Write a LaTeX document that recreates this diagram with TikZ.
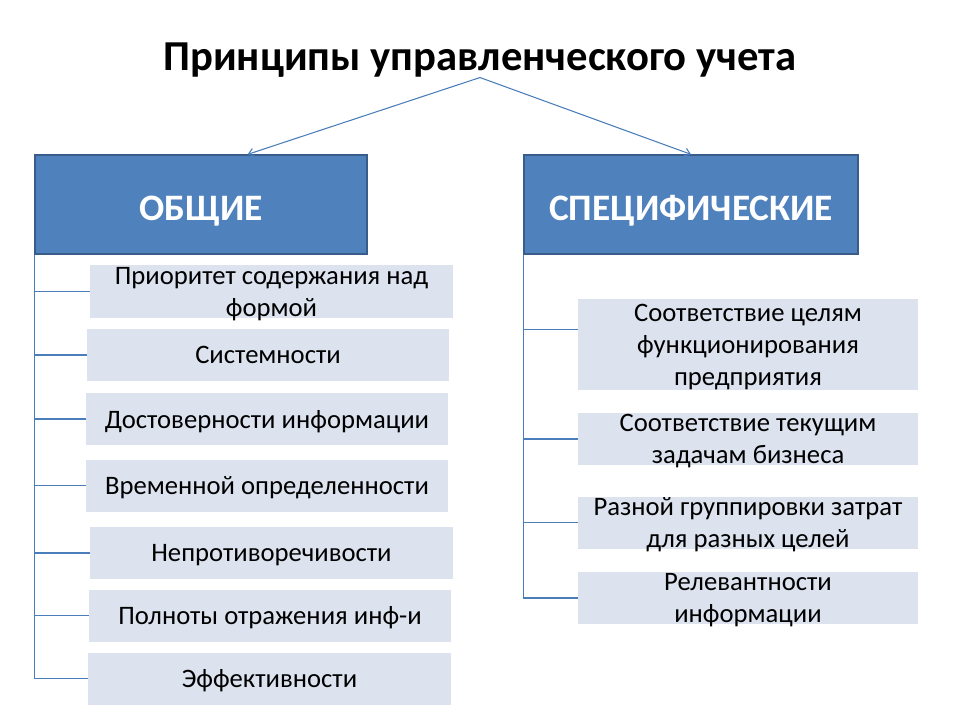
\documentclass[tikz,border=0pt]{standalone}
\usepackage{fontspec}
\setmainfont{Carlito}
\usetikzlibrary{arrows.meta,positioning}
\definecolor{hdrfill}{HTML}{4F81BD}
\definecolor{hdrline}{HTML}{385D8A}
\definecolor{boxfill}{HTML}{DCE3EF}
\definecolor{linkcol}{HTML}{4A7EBB}
\tikzset{
  head/.style={fill=hdrfill,draw=hdrline,line width=1.2pt,text=white,inner sep=0pt,
    text height=24pt,text depth=0pt,font=\fontsize{28}{32}\selectfont\bfseries},
  item/.style={fill=boxfill,inner sep=0pt,align=center,minimum height=39pt,
    text depth=-4pt,font=\fontsize{20}{24}\selectfont},
  link/.style={draw=linkcol,line width=0.8pt},
}
\begin{document}
\begin{tikzpicture}[x=0.75pt,y=-0.75pt]%
\useasboundingbox (0,0) rectangle (960,720);
\node[inner sep=0pt,font=\fontsize{32}{36}\selectfont\bfseries] (title) at (480,60) {Принципы управленческого учета}; %%
\node[head,minimum width=249pt,minimum height=74pt] (h1) at (201,204.5) {ОБЩИЕ}; %%
\node[head,minimum width=250.5pt,minimum height=74pt] (h2) at (691,204.5) {СПЕЦИФИЧЕСКИЕ}; %%
\begin{scope}[every node/.style={item}]%
\node[minimum width=272pt] (l1) at (271.5,291.5) {Приоритет содержания над\\формой}; %%
\node[minimum width=271.5pt] (l2) at (268,355) {Системности}; %%
\node[minimum width=271.5pt] (l3) at (267,419) {Достоверности информации}; %%
\node[minimum width=271.5pt] (l4) at (267,485.5) {Временной определенности}; %%
\node[minimum width=272pt] (l5) at (271.5,553) {Непротиворечивости}; %%
\node[minimum width=271.5pt] (l6) at (270,615.5) {Полноты отражения инф-и}; %%
\node[minimum width=272pt] (l7) at (269.5,678.5) {Эффективности}; %%
\node[minimum width=255pt,minimum height=68pt] (r1) at (748,344.5) {Соответствие целям\\функционирования\\предприятия}; %%
\node[minimum width=255pt] (r2) at (748,439) {Соответствие текущим\\задачам бизнеса}; %%
\node[minimum width=255pt] (r3) at (748,522.5) {Разной группировки затрат\\для разных целей}; %%
\node[minimum width=255pt] (r4) at (748,598) {Релевантности\\информации}; %%
\end{scope}
%% arrows from the title
\draw[link,-{Straight Barb[length=4pt,width=6pt]}] (title.south) -- ([xshift=35pt]h1.north); %%
\draw[link,-{Straight Barb[length=4pt,width=6pt]}] (title.south) -- (h2.north); %%
%% left branch
\draw[link] (h1.south west) -- (h1.south west |- l7.west); %%
\foreach \n in {l1,l2,l3,l4,l5,l6,l7}
  \draw[link] (h1.south west |- \n.west) -- (\n.west); %%
%% right branch
\draw[link] (h2.south west) -- (h2.south west |- r4.west); %%
\draw[link] ([yshift=11pt]h2.south west |- r1.west) -- ([yshift=11pt]r1.west); %%
\foreach \n in {r2,r3,r4}
  \draw[link] (h2.south west |- \n.west) -- (\n.west); %%
\end{tikzpicture}
\end{document}
